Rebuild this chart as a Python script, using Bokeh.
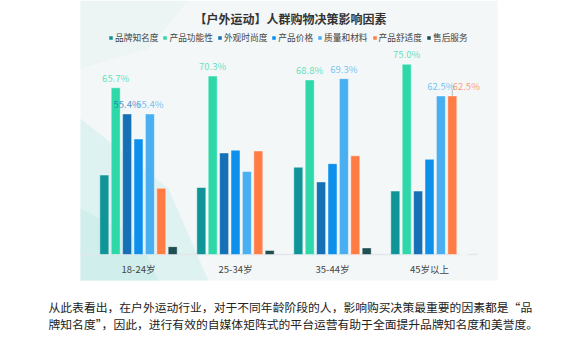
from bokeh.plotting import figure
from bokeh.models import (ColumnDataSource, Range1d, FactorRange, Label, Legend, LegendItem,
                          BoxAnnotation, PolyAnnotation)
from bokeh.transform import dodge
from bokeh.core.properties import value
from bokeh.embed import file_html
from bokeh.resources import INLINE

# ---- data ----
ages = ["18-24岁", "25-34岁", "35-44岁", "45岁以上"]
series_names = ["品牌知名度", "产品功能性", "外观时尚度", "产品价格", "质量和材料", "产品舒适度", "售后服务"]
brand = [31.3, 26.4, 34.4, 25.0]
functionality = [65.7, 70.3, 68.8, 75.0]
appearance = [55.4, 40.0, 28.6, 25.0]
price = [45.5, 41.1, 35.8, 37.5]
quality = [55.4, 32.7, 69.3, 62.5]
comfort = [26.1, 40.8, 38.9, 62.5]
service = [3.1, 1.6, 2.6, 0.0]
title_text = "【户外运动】人群购物决策影响因素"
note_line1 = "从此表看出，在户外运动行业，对于不同年龄阶段的人，影响购买决策最重要的因素都是“品"
note_line2 = "牌知名度”，因此，进行有效的自媒体矩阵式的平台运营有助于全面提升品牌知名度和美誉度。"

series_values = [brand, functionality, appearance, price, quality, comfort, service]
colors = ["#0f9598", "#2ed8a9", "#1570b5", "#0d8fec", "#4aaff0", "#ff7c45", "#1e4f52"]
FONT = "Noto Sans CJK SC"

W, H = 554, 344
FRAME_L, FRAME_W = 14, 539
PX_PER_UNIT = 2.5375          # pixels per percentage point
BASE_FROM_TOP = 254           # baseline position in canvas pixels
y0 = -(H - BASE_FROM_TOP) / PX_PER_UNIT
y1 = BASE_FROM_TOP / PX_PER_UNIT

p = figure(x_range=FactorRange(*ages, range_padding=0.7784, range_padding_units="absolute"),
           y_range=Range1d(y0, y1),
           width=W, height=H, min_border_left=FRAME_L, min_border_right=W - FRAME_L - FRAME_W,
           min_border_top=0, min_border_bottom=0,
           output_backend="svg", toolbar_location=None,
           background_fill_color="white", border_fill_color="white")
p.outline_line_color = None
p.xgrid.visible = False
p.ygrid.visible = False
p.xaxis.visible = False
p.yaxis.visible = False

# chart background panel
p.add_layout(BoxAnnotation(left=80, right=497, top=0, bottom=280,
                           left_units="canvas", right_units="canvas",
                           top_units="canvas", bottom_units="canvas",
                           fill_color="#f4f7f8", fill_alpha=1.0, line_color=None,
                           level="underlay"))
p.add_layout(PolyAnnotation(xs=[80, 80, 168, 208, 128], ys=[280, 118, 188, 280, 280],
                            xs_units="canvas", ys_units="canvas",
                            fill_color="#cdeeec", fill_alpha=0.55, line_color=None,
                            level="underlay"))
p.add_layout(PolyAnnotation(xs=[80, 80, 138, 158], ys=[280, 208, 238, 280],
                            xs_units="canvas", ys_units="canvas",
                            fill_color="#bfe9e6", fill_alpha=0.5, line_color=None,
                            level="underlay"))
p.add_layout(PolyAnnotation(xs=[80, 80, 188, 148], ys=[68, 0, 0, 48],
                            xs_units="canvas", ys_units="canvas",
                            fill_color="#e6f1f1", fill_alpha=0.6, line_color=None,
                            level="underlay"))

# baseline
bsrc = ColumnDataSource(dict(a0=[ages[0]], a1=[ages[-1]], y=[0]))
p.segment(x0=dodge("a0", -0.58, range=p.x_range), y0="y", x1=dodge("a1", 0.5, range=p.x_range), y1="y",
          source=bsrc, line_color="#e2e7ea", line_width=1.5)

pitch = 0.1175
bar_w = 0.093
items = []
for i, (name, vals, col) in enumerate(zip(series_names, series_values, colors)):
    off = (i - 3) * pitch
    src = ColumnDataSource(dict(age=ages, v=vals))
    r = p.vbar(x=dodge("age", off, range=p.x_range), top="v", bottom=0, width=bar_w, source=src,
               fill_color=col, line_color="white", line_alpha=0.45, line_width=1)
    items.append(LegendItem(label=name, renderers=[r]))
    la = [a for a, v in zip(ages, vals) if v >= 50]
    lv = [v for v in vals if v >= 50]
    if la:
        dx = [14 if (name == "产品舒适度" and a == "45岁以上") else 0 for a in la]
        lsrc = ColumnDataSource(dict(age=la, v=lv, t=["%.1f%%" % v for v in lv], dx=dx))
        p.text(x=dodge("age", off, range=p.x_range), y="v", text="t", x_offset="dx", y_offset=-3,
               source=lsrc, text_align="center", text_baseline="bottom",
               text_font=value(FONT), text_font_size="9.5px", text_color=col, text_alpha=0.75)
        if name == "产品舒适度":
            ssrc = ColumnDataSource(dict(age=["45岁以上"], s0=[62.5], s1=[64.8]))
            p.segment(x0=dodge("age", off, range=p.x_range), y0="s0",
                      x1=dodge("age", off, range=p.x_range), y1="s1",
                      source=ssrc, line_color="#bbbbbb", line_width=1)

# category labels
csrc = ColumnDataSource(dict(age=ages, y=[-14 / PX_PER_UNIT] * len(ages)))
p.text(x="age", y="y", text="age", source=csrc, text_align="center", text_baseline="middle",
       text_font=value(FONT), text_font_size="9.5px", text_color="#444444")

legend = Legend(items=items, orientation="horizontal", location=(94, 300.5),
                glyph_width=5, glyph_height=5, label_height=10, label_width=10,
                label_standoff=2, spacing=4, padding=0, margin=0,
                label_text_font=FONT, label_text_font_size="8.7px", label_text_color="#444444",
                background_fill_alpha=0, border_line_color=None)
p.add_layout(legend, "center")

p.add_layout(Label(x=290, y=18, x_units="canvas", y_units="canvas", text=title_text,
                   text_align="center", text_baseline="middle", text_font=FONT,
                   text_font_size="12px", text_font_style="bold", text_color="#333333"))
p.add_layout(Label(x=48, y=306, x_units="canvas", y_units="canvas", text=note_line1,
                   text_align="left", text_baseline="middle", text_font=FONT,
                   text_font_size="11.8px", text_color="#222222"))
p.add_layout(Label(x=48, y=323, x_units="canvas", y_units="canvas", text=note_line2,
                   text_align="left", text_baseline="middle", text_font=FONT,
                   text_font_size="11.8px", text_color="#222222"))

open("out.html", "w").write(file_html(p, INLINE))
